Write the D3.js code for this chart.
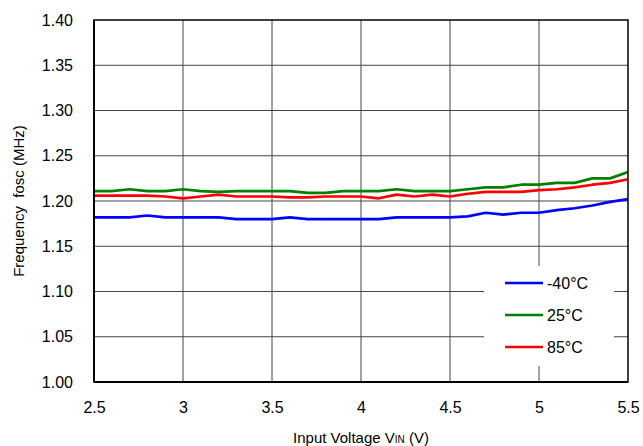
<!DOCTYPE html>
<html>
<head>
<meta charset="utf-8">
<script src="https://cdn.jsdelivr.net/npm/d3@7"></script>
<style>
  body { margin: 0; background: #fff; }
  svg text { font-family: "Liberation Sans", Arial, sans-serif; fill: #000; }
</style>
</head>
<body>
<svg id="chart" width="643" height="446"></svg>
<script>
// input voltage, 0.1 V steps
var vin = d3.range(31).map(i => +(2.5 + i * 0.1).toFixed(1));

var fMinus40 = [1.182, 1.182, 1.182, 1.184, 1.182, 1.182, 1.182, 1.182, 1.180, 1.180,
                1.180, 1.182, 1.180, 1.180, 1.180, 1.180, 1.180, 1.182, 1.182, 1.182,
                1.182, 1.183, 1.187, 1.185, 1.187, 1.187, 1.190, 1.192, 1.195, 1.199, 1.202];
var f25 = [1.211, 1.211, 1.213, 1.211, 1.211, 1.213, 1.211, 1.210, 1.211, 1.211,
           1.211, 1.211, 1.209, 1.209, 1.211, 1.211, 1.211, 1.213, 1.211, 1.211,
           1.211, 1.213, 1.215, 1.215, 1.218, 1.218, 1.220, 1.220, 1.225, 1.225, 1.232];
var f85 = [1.206, 1.206, 1.206, 1.206, 1.205, 1.203, 1.205, 1.207, 1.205, 1.205,
           1.205, 1.204, 1.204, 1.205, 1.205, 1.205, 1.203, 1.207, 1.205, 1.207,
           1.205, 1.208, 1.210, 1.210, 1.210, 1.212, 1.213, 1.215, 1.218, 1.220, 1.224];

var seriesNames = ["-40°C", "25°C", "85°C"];
var seriesColors = ["#0000ff", "#008000", "#ff0000"];
var seriesValues = [fMinus40, f25, f85];

var xTicks = [2.5, 3, 3.5, 4, 4.5, 5, 5.5];
var yTicks = [1.00, 1.05, 1.10, 1.15, 1.20, 1.25, 1.30, 1.35, 1.40];

var rect = { left: 94, top: 20, right: 628, bottom: 382 };
var svg = d3.select("#chart");

var x = d3.scaleLinear().domain([2.5, 5.5]).range([rect.left, rect.right]);
var y = d3.scaleLinear().domain([1.0, 1.4]).range([rect.bottom, rect.top]);

// grille
svg.append("g").selectAll("line")
    .data(xTicks.slice(1, -1))
    .enter().append("line")
    .attr("x1", d => x(d)).attr("x2", d => x(d))
    .attr("y1", rect.top).attr("y2", rect.bottom)
    .style("stroke", "#444").style("stroke-width", 1);

svg.append("g").selectAll("line")
    .data(yTicks.slice(1, -1))
    .enter().append("line")
    .attr("x1", rect.left).attr("x2", rect.right)
    .attr("y1", d => y(d)).attr("y2", d => y(d))
    .style("stroke", "#444").style("stroke-width", 1);

// courbes
var line = d3.line().x((d, i) => x(vin[i])).y(d => y(d));
svg.append("g").selectAll("path")
    .data(seriesValues)
    .enter().append("path")
    .attr("d", d => line(d))
    .attr("fill", "none")
    .attr("stroke", (d, i) => seriesColors[i])
    .attr("stroke-width", 2.7)
    .attr("stroke-linejoin", "round");

// cadre
svg.append("rect")
    .attr("x", rect.left).attr("y", rect.top)
    .attr("width", rect.right - rect.left).attr("height", rect.bottom - rect.top)
    .attr("fill", "none").attr("stroke", "#000").attr("stroke-width", 1.5);
svg.append("line")
    .attr("x1", rect.left).attr("x2", rect.left)
    .attr("y1", rect.top).attr("y2", rect.bottom)
    .attr("stroke", "#000").attr("stroke-width", 2);
svg.append("line")
    .attr("x1", rect.left).attr("x2", rect.right)
    .attr("y1", rect.bottom).attr("y2", rect.bottom)
    .attr("stroke", "#000").attr("stroke-width", 2);

// axes (labels only)
var xAxis = d3.axisBottom(x).tickValues(xTicks).tickSize(0).tickPadding(20)
    .tickFormat(d3.format("~g"));
var gx = svg.append("g").attr("transform", "translate(0," + rect.bottom + ")").call(xAxis);
gx.select(".domain").remove();
gx.selectAll("text").style("font-size", "16px");

var yAxis = d3.axisLeft(y).tickValues(yTicks).tickSize(0).tickPadding(21)
    .tickFormat(d3.format(".2f"));
var gy = svg.append("g").attr("transform", "translate(" + rect.left + ",0)").call(yAxis);
gy.select(".domain").remove();
gy.selectAll("text").style("font-size", "16px");

// titres
var xt = svg.append("text")
    .attr("x", 361).attr("y", 443)
    .attr("text-anchor", "middle")
    .style("font-size", "15px");
xt.append("tspan").text("Input Voltage V");
xt.append("tspan").text("IN").style("font-size", "10px");
xt.append("tspan").text(" (V)");

svg.append("text")
    .attr("transform", "translate(24,201) rotate(-90)")
    .attr("text-anchor", "middle")
    .style("font-size", "15px")
    .style("white-space", "pre")
    .text("Frequency  fosc (MHz)");

// légende
var lg = svg.append("g");
lg.append("rect")
    .attr("x", 484).attr("y", 266).attr("width", 130).attr("height", 100)
    .attr("fill", "#fff");
var items = lg.selectAll("g.item")
    .data(seriesNames)
    .enter().append("g")
    .attr("class", "item")
    .attr("transform", (d, i) => "translate(505," + (283 + i * 32) + ")");
items.append("line")
    .attr("x1", 0).attr("x2", 38)
    .attr("stroke", (d, i) => seriesColors[i])
    .attr("stroke-width", 2.7);
items.append("text")
    .attr("x", 42).attr("dy", "0.35em")
    .style("font-size", "16px")
    .text(d => d);
</script>
</body>
</html>
